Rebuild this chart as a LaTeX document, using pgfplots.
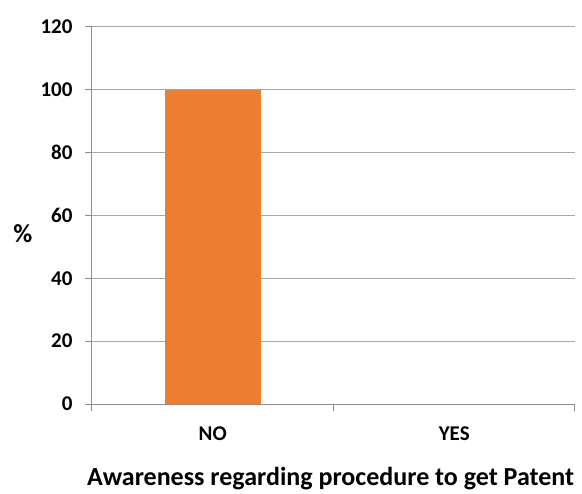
\documentclass[border=0pt]{standalone}
\usepackage{pgfplots}
\pgfplotsset{compat=1.18}
\usepackage{fontspec}
\setmainfont{Carlito}
\definecolor{barorange}{HTML}{ED7D31}
\definecolor{gridgray}{HTML}{A6A6A6}
\definecolor{axisgray}{HTML}{8C8C8C}

\begin{document}
\begin{tikzpicture}
\begin{axis}[
    scale only axis,
    width=483pt, height=377pt,
    xmin=-0.5, xmax=1.5,
    ymin=0, ymax=120,
    ytick={0,20,...,120},
    xtick={0,1},
    xticklabels={NO,YES},
    minor xtick={-0.5,0.5,1.5},
    axis x line*=bottom,
    axis y line*=left,
    axis line style={axisgray, line width=1pt},
    tick align=outside,
    major tick length=7pt,
    minor tick length=7pt,
    xtick style={draw=none},
    minor x tick style={draw=axisgray, line width=1pt},
    ytick style={axisgray, line width=1pt},
    ymajorgrids,
    grid style={gridgray, line width=1pt},
    /pgf/number format/assume math mode=true,
    tick label style={font=\fontsize{21}{25}\selectfont\bfseries, text=black},
    yticklabel style={xshift=-9pt},
    xticklabel style={yshift=-12pt},
    xlabel={Awareness regarding procedure to get Patent},
    xlabel style={font=\fontsize{26}{31}\selectfont\bfseries,
        at={(axis description cs:0.494,-0.199)}, anchor=center},
    ylabel={\%},
    ylabel style={font=\fontsize{26}{31}\selectfont\bfseries, rotate=-90,
        at={(axis description cs:-0.143,0.453)}, anchor=center},
    unbounded coords=discard,
    restrict y to domain=0.001:1000,
    clip=false,
]
\addplot[ybar, bar width=96pt, fill=barorange, draw=none] coordinates {(0,100) (1,0)};
\coordinate (o) at (rel axis cs:0,0);
\end{axis}
\path (o) ++(-92pt,-85pt) rectangle ++(582pt,489pt);
\end{tikzpicture}
\end{document}
